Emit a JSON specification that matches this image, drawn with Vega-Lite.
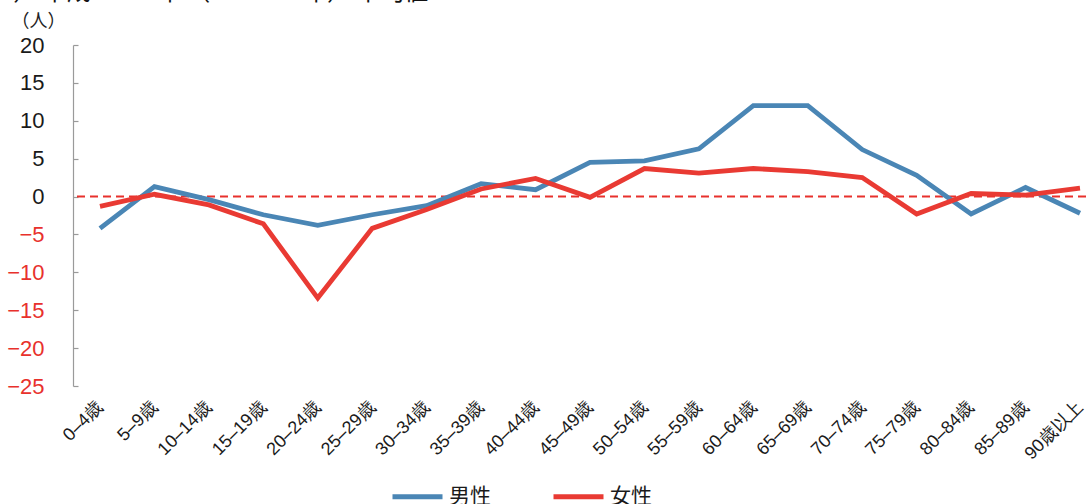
{
  "$schema": "https://vega.github.io/schema/vega-lite/v6.json",
  "autosize": "none",
  "width": 1013,
  "height": 341,
  "padding": {"left": 73, "top": 45, "right": 0, "bottom": 118},
  "background": "white",
  "title": {
    "text": "2）  平成25–30年  （2013–18年）  平均値",
    "anchor": "start",
    "frame": "group",
    "orient": "top",
    "offset": 0,
    "dx": -73,
    "dy": -7,
    "fontSize": 24,
    "fontWeight": "normal",
    "font": "Noto Sans CJK JP",
    "color": "#111"
  },
  "config": {
    "view": {"stroke": null},
    "font": "Liberation Sans"
  },
  "datasets": {
    "zero": [{"value": 0}]
  },
  "data": {
    "values": [
      {"age": "0–4歳", "sex": "男性", "value": -4.2},
      {"age": "5–9歳", "sex": "男性", "value": 1.3},
      {"age": "10–14歳", "sex": "男性", "value": -0.4},
      {"age": "15–19歳", "sex": "男性", "value": -2.4},
      {"age": "20–24歳", "sex": "男性", "value": -3.8},
      {"age": "25–29歳", "sex": "男性", "value": -2.4},
      {"age": "30–34歳", "sex": "男性", "value": -1.2},
      {"age": "35–39歳", "sex": "男性", "value": 1.7},
      {"age": "40–44歳", "sex": "男性", "value": 0.9},
      {"age": "45–49歳", "sex": "男性", "value": 4.5},
      {"age": "50–54歳", "sex": "男性", "value": 4.7},
      {"age": "55–59歳", "sex": "男性", "value": 6.3},
      {"age": "60–64歳", "sex": "男性", "value": 12.0},
      {"age": "65–69歳", "sex": "男性", "value": 12.0},
      {"age": "70–74歳", "sex": "男性", "value": 6.2},
      {"age": "75–79歳", "sex": "男性", "value": 2.8},
      {"age": "80–84歳", "sex": "男性", "value": -2.3},
      {"age": "85–89歳", "sex": "男性", "value": 1.2},
      {"age": "90歳以上", "sex": "男性", "value": -2.2},
      {"age": "0–4歳", "sex": "女性", "value": -1.3},
      {"age": "5–9歳", "sex": "女性", "value": 0.3},
      {"age": "10–14歳", "sex": "女性", "value": -1.1},
      {"age": "15–19歳", "sex": "女性", "value": -3.6},
      {"age": "20–24歳", "sex": "女性", "value": -13.4},
      {"age": "25–29歳", "sex": "女性", "value": -4.2},
      {"age": "30–34歳", "sex": "女性", "value": -1.7},
      {"age": "35–39歳", "sex": "女性", "value": 1.0},
      {"age": "40–44歳", "sex": "女性", "value": 2.4},
      {"age": "45–49歳", "sex": "女性", "value": -0.1},
      {"age": "50–54歳", "sex": "女性", "value": 3.7},
      {"age": "55–59歳", "sex": "女性", "value": 3.1},
      {"age": "60–64歳", "sex": "女性", "value": 3.7},
      {"age": "65–69歳", "sex": "女性", "value": 3.3},
      {"age": "70–74歳", "sex": "女性", "value": 2.5},
      {"age": "75–79歳", "sex": "女性", "value": -2.3},
      {"age": "80–84歳", "sex": "女性", "value": 0.4},
      {"age": "85–89歳", "sex": "女性", "value": 0.2},
      {"age": "90歳以上", "sex": "女性", "value": 1.1}
    ]
  },
  "encoding": {
    "y": {
      "field": "value",
      "type": "quantitative",
      "scale": {"domain": [-25, 20], "nice": false, "zero": false},
      "axis": {
        "title": "（人）",
        "titleAngle": 0,
        "titleAlign": "left",
        "titleBaseline": "alphabetic",
        "titleX": -62,
        "titleY": -19,
        "titleFont": "Noto Sans CJK JP",
        "titleFontSize": 18,
        "titleFontWeight": "normal",
        "titleColor": "#222",
        "values": [-25, -20, -15, -10, -5, 0, 5, 10, 15, 20],
        "grid": false,
        "domainColor": "#9a9a9a",
        "domainWidth": 1.2,
        "tickColor": "#9a9a9a",
        "tickSize": -5,
        "tickWidth": 1.2,
        "labelPadding": 34,
        "labelFontSize": 22,
        "labelFont": "Liberation Sans",
        "labelColor": {"expr": "datum.value < 0 ? '#e8312c' : '#1a1a1a'"},
        "labelExpr": "datum.value < 0 ? '−' + abs(datum.value) : datum.label"
      }
    }
  },
  "layer": [
    {
      "data": {"name": "zero"},
      "mark": {"type": "rule", "color": "#e8312c", "strokeWidth": 2, "strokeDash": [8, 5]},
      "encoding": {"y": {"field": "value", "type": "quantitative"}}
    },
    {
      "mark": {"type": "line", "strokeWidth": 4.8, "strokeJoin": "miter", "strokeCap": "butt"},
      "encoding": {
        "x": {
          "field": "age",
          "type": "ordinal",
          "sort": null,
          "scale": {"type": "point", "range": [27, 1007], "padding": 0},
          "axis": {
            "title": null,
            "domain": false,
            "ticks": false,
            "labelAngle": -45,
            "labelAlign": "right",
            "labelBaseline": "middle",
            "labelPadding": 18,
            "labelFontSize": 18,
            "labelFont": "Liberation Sans",
            "labelColor": "#1a1a1a"
          }
        },
        "color": {
          "field": "sex",
          "type": "nominal",
          "sort": ["男性", "女性"],
          "scale": {"domain": ["男性", "女性"], "range": ["#4a86b5", "#e93a33"]},
          "legend": {
            "title": null,
            "orient": "none",
            "direction": "horizontal",
            "legendX": 317,
            "legendY": 424,
            "symbolType": "stroke",
            "symbolSize": 2500,
            "symbolStrokeWidth": 5,
            "labelFontSize": 21,
            "labelFont": "Noto Sans CJK JP",
            "labelColor": "#1a1a1a",
            "labelOffset": 4,
            "columnPadding": 52
          }
        }
      }
    }
  ]
}
